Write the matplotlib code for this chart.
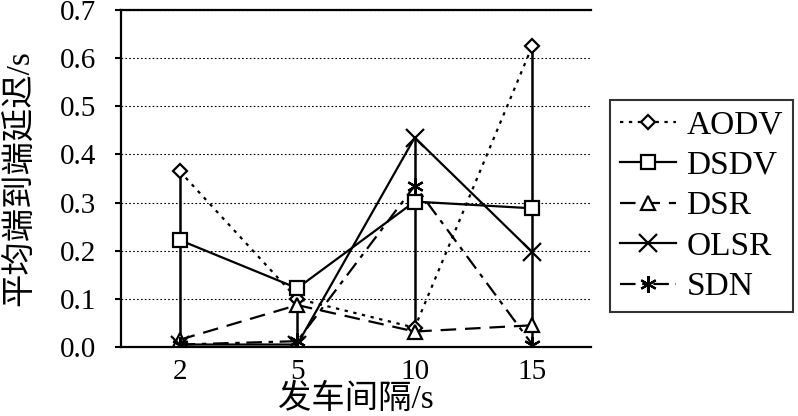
import matplotlib.pyplot as plt
import numpy as np

plt.rcParams['font.family'] = ['Liberation Serif', 'Noto Sans CJK SC']

# data
intervals = ['2', '5', '10', '15']
aodv = [0.365, 0.100, 0.040, 0.625]
dsdv = [0.222, 0.122, 0.302, 0.288]
dsr = [0.015, 0.087, 0.032, 0.045]
olsr = [0.005, 0.005, 0.435, 0.197]
sdn = [0.005, 0.012, 0.335, 0.005]

series = [
    ('AODV', aodv, 'D', (0, (1.5, 2.5)), 7),
    ('DSDV', dsdv, 's', '-', 10),
    ('DSR', dsr, '^', (0, (7, 4)), 10),
    ('OLSR', olsr, 'x', '-', 13),
    ('SDN', sdn, (6, 2, 0), (0, (7, 3, 2, 3)), 12),
]

x = np.arange(len(intervals))

fig = plt.figure(figsize=(7.98, 4.16), dpi=100)
ax = fig.add_axes([0.1516, 0.166, 0.589, 0.810])

# high-low lines across all series
allv = np.array([aodv, dsdv, dsr, olsr, sdn])
ax.vlines(x, allv.min(axis=0), allv.max(axis=0), color='black', lw=1.8, zorder=2)

for name, vals, mk, ls, ms in series:
    ax.plot(x, vals, linestyle=ls, color='black', lw=1.6, marker=mk,
            markersize=ms, markerfacecolor='white', markeredgecolor='black',
            markeredgewidth=1.6, label=name, zorder=3)

ax.set_xlim(-0.5, 3.5)
ax.set_ylim(0, 0.7)
ax.set_xticks(x)
ax.set_xticklabels(intervals, fontsize=21)
ax.set_yticks(np.arange(0, 0.71, 0.1))
ax.set_yticklabels(['{:.1f}'.format(v) for v in np.arange(0, 0.71, 0.1)], fontsize=21)
ax.tick_params(axis='x', length=0, pad=9)
ax.tick_params(axis='y', length=4, width=1.5, direction='out', pad=14)
ax.yaxis.grid(True, linestyle=(0, (1.5, 2)), color='black', lw=0.8)
ax.set_axisbelow(True)

for s in ['left', 'bottom', 'top']:
    ax.spines[s].set_linewidth(1.6)
ax.spines['right'].set_visible(False)

ax.set_xlabel('发车间隔/s', fontsize=24)
ax.xaxis.set_label_coords(0.5, -0.108)
ax.set_ylabel('平均端到端延迟/s', fontsize=24)
ax.yaxis.set_label_coords(-0.183, 0.5)

leg = fig.legend(loc='upper left', bbox_to_anchor=(0.764, 0.760), fontsize=24,
                 frameon=True, fancybox=False, edgecolor='black',
                 handlelength=1.7, handletextpad=0.3, labelspacing=0.3,
                 borderpad=0.3, borderaxespad=0)
leg.get_frame().set_linewidth(1.5)

plt.savefig('out.png', dpi=100)
